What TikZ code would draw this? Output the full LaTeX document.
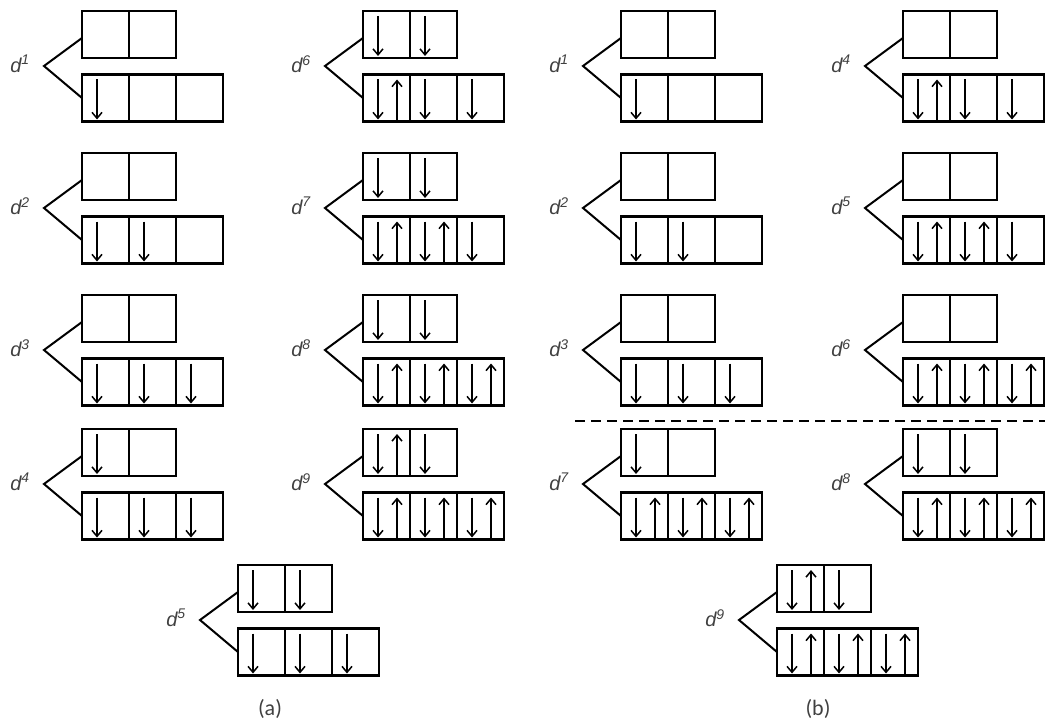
\documentclass[tikz,border=0pt]{standalone}
\usepackage{fontspec}
\setmainfont{Liberation Sans}
\newfontfamily\capfont{Carlito}
\usetikzlibrary{arrows.meta}
\tikzset{
 cell/.style={draw, line width=2.7pt, minimum width=47pt, minimum height=47pt, inner sep=0pt, outer sep=0pt},
 spin/.style={line width=1.5pt, -{Straight Barb[length=6pt,width=10pt,line width=1.5pt]}},
 conn/.style={line width=2pt},
 lbl/.style={font=\fontsize{20}{20}\selectfont\itshape, text=black!75},
 captext/.style={font=\capfont\fontsize{22}{22}\selectfont, text=black!75},
 sepline/.style={line width=2pt, dash pattern=on 10pt off 6pt},
}
\newcommand\spins[2]{%
 \ifcase#2\relax\or
  \draw[spin] ([xshift=-8.5pt,yshift=-5pt]#1.north) -- ([xshift=-8.5pt,yshift=2pt]#1.south);
 \or
  \draw[spin] ([xshift=-8.5pt,yshift=-5pt]#1.north) -- ([xshift=-8.5pt,yshift=2pt]#1.south);
  \draw[spin] ([xshift=10.5pt,yshift=1pt]#1.south) -- ([xshift=10.5pt,yshift=-5pt]#1.north);
 \fi}
\newcommand\orbset[9]{%
 \node[cell] (#1u1) at (#2+23.5,#3+23.5) {};
 \node[cell] (#1u2) at (#2+70.5,#3+23.5) {};
 \node[cell] (#1l1) at (#2+23.5,#3+87) {};
 \node[cell] (#1l2) at (#2+70.5,#3+87) {};
 \node[cell] (#1l3) at (#2+117.5,#3+87) {};
 \spins{#1u1}{#5}\spins{#1u2}{#6}%
 \spins{#1l1}{#7}\spins{#1l2}{#8}\spins{#1l3}{#9}%
 \coordinate (#1a) at (#2-38,#3+55);
 \draw[conn] ([yshift=-3.5pt]#1u1.west) -- (#1a) -- (#1l1.west);
 \node[lbl] (#1t) at (#2-62,#3+53) {d\textsuperscript{#4}};
}
\begin{document}
\begin{tikzpicture}[x=1pt,y=-1pt]
\useasboundingbox (0,0) rectangle (1045,725);
% (a)
\orbset{aa}{82}{11}{1}{0}{0}{1}{0}{0}
\orbset{ab}{82}{153}{2}{0}{0}{1}{1}{0}
\orbset{ac}{82}{295}{3}{0}{0}{1}{1}{1}
\orbset{ad}{82}{429}{4}{1}{0}{1}{1}{1}
\orbset{ae}{238}{565}{5}{1}{1}{1}{1}{1}
\orbset{af}{363}{11}{6}{1}{1}{2}{1}{1}
\orbset{ag}{363}{153}{7}{1}{1}{2}{2}{1}
\orbset{ah}{363}{295}{8}{1}{1}{2}{2}{2}
\orbset{ai}{363}{429}{9}{2}{1}{2}{2}{2}
% (b)
\orbset{ba}{621}{11}{1}{0}{0}{1}{0}{0}
\orbset{bb}{621}{153}{2}{0}{0}{1}{1}{0}
\orbset{bc}{621}{295}{3}{0}{0}{1}{1}{1}
\orbset{bg}{621}{429}{7}{1}{0}{2}{2}{2}
\orbset{bd}{903}{11}{4}{0}{0}{2}{1}{1}
\orbset{be}{903}{153}{5}{0}{0}{2}{2}{1}
\orbset{bf}{903}{295}{6}{0}{0}{2}{2}{2}
\orbset{bh}{903}{429}{8}{1}{1}{2}{2}{2}
\orbset{bi}{777}{565}{9}{2}{1}{2}{2}{2}
\coordinate (dl) at (575,421);
\coordinate (dr) at (1045,421);
\draw[sepline] (dl) -- (dr);
\node[captext] (capa) at (270,709) {(a)};
\node[captext] (capb) at (818,709) {(b)};
\end{tikzpicture}
\end{document}
